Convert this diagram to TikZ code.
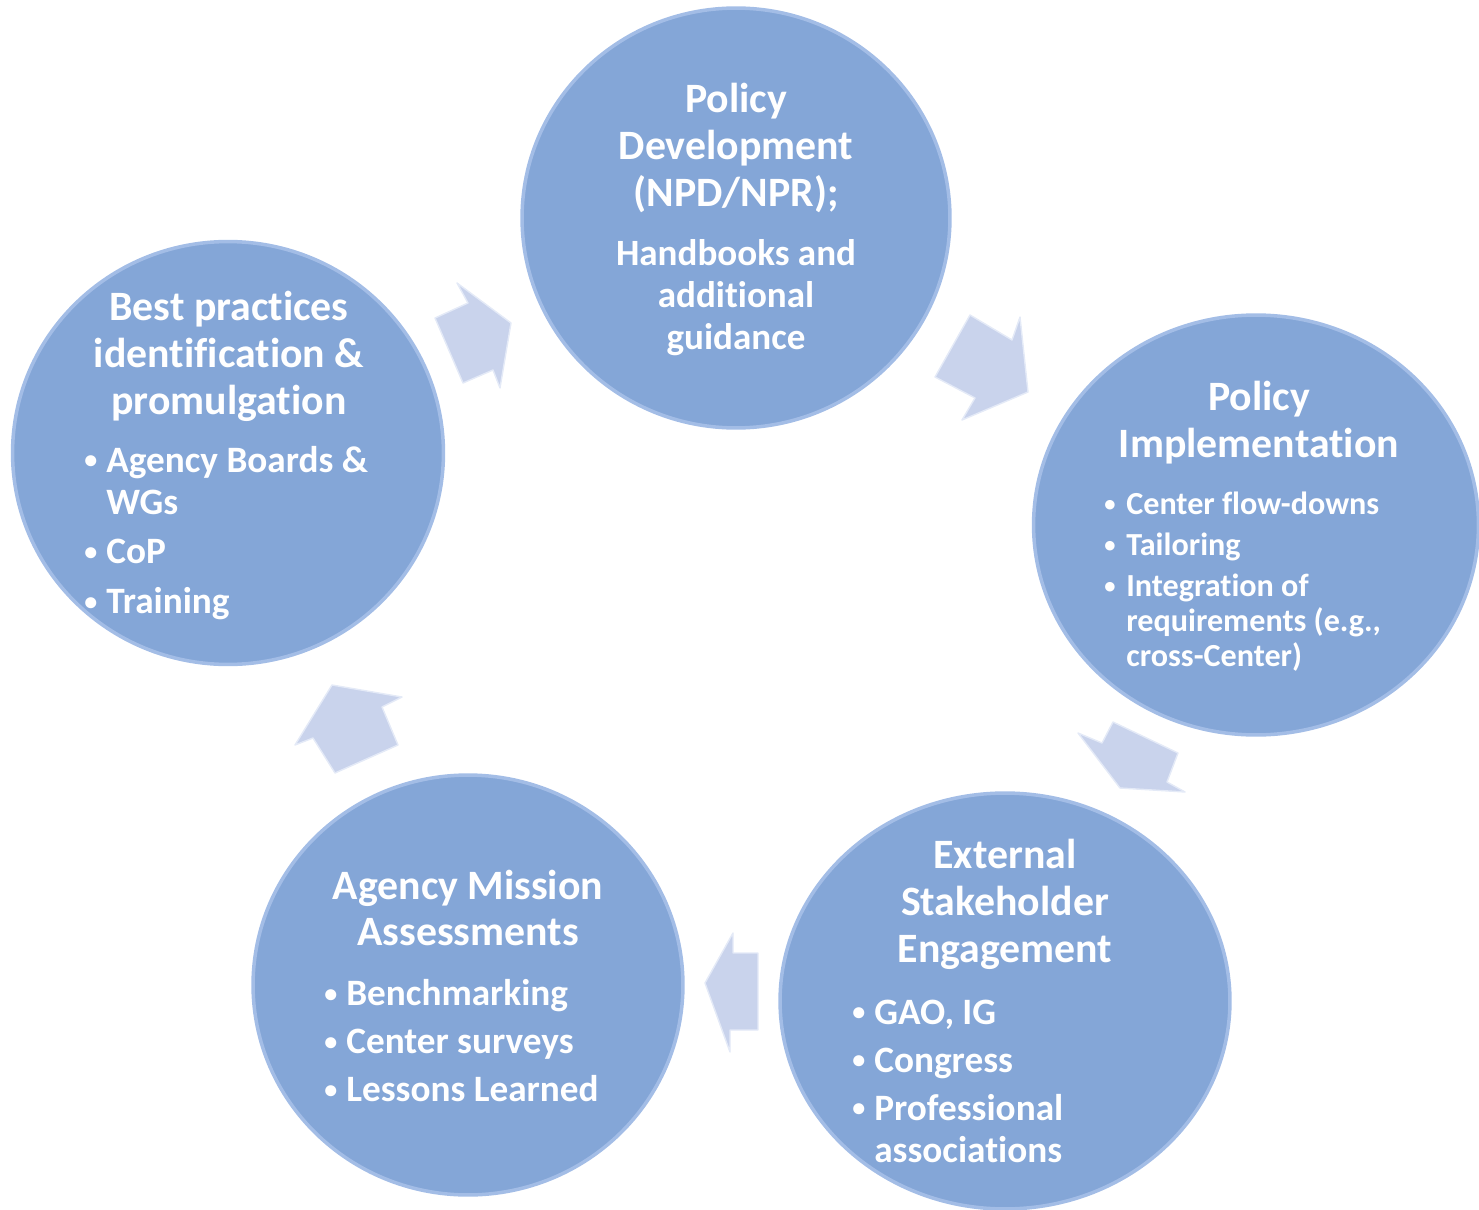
\documentclass[tikz,border=0pt]{standalone}
\usepackage{fontspec}
\setmainfont{Carlito}[Ligatures=NoCommon]
\usetikzlibrary{shapes.geometric}

\definecolor{bubblefill}{HTML}{84A6D7}
\definecolor{bubbleedge}{HTML}{A3BDE6}
\definecolor{arrowfill}{HTML}{C9D3EC}
\definecolor{arrowedge}{HTML}{E4EAF7}

\tikzset{
  bubble/.style={ellipse, fill=bubblefill, draw=bubbleedge, line width=2pt, inner sep=0pt},
  headtxt/.style={text=white, align=center, inner sep=0pt,
    font=\bfseries\fontsize{23.8pt}{26.7pt}\selectfont},
  subtxt/.style={text=white, align=center, inner sep=0pt,
    font=\bfseries\fontsize{21.1pt}{23.9pt}\selectfont},
  listtxt/.style={text=white, align=left, anchor=west, inner sep=0pt,
    font=\bfseries\fontsize{21.2pt}{23.9pt}\selectfont},
  smalllist/.style={listtxt, font=\bfseries\fontsize{18.3pt}{19.9pt}\selectfont},
  blockarrow/.style={fill=arrowfill, draw=arrowedge, line width=0.8pt, line join=round}
}
\newcommand{\bul}{\makebox[12.5pt][l]{\raisebox{0.1em}{\scalebox{0.7}{\textbullet}}}}
\newcommand{\ind}{\hspace*{12.5pt}}

\begin{document}
\begin{tikzpicture}[x=0.02cm, y=-0.02cm]
    \useasboundingbox (0,0) rectangle (1479,1209);

    % -----------------------------------------------------
    % 1) Los cinco circulos del ciclo
    % -----------------------------------------------------
    \node[bubble, minimum width=8.56cm, minimum height=8.40cm] (dev) at (736,218) {};
    \node[bubble, minimum width=8.90cm, minimum height=8.40cm] (impl) at (1256,525) {};
    \node[bubble, minimum width=9.00cm, minimum height=8.32cm] (ext) at (1005,1001) {};
    \node[bubble, minimum width=8.60cm, minimum height=8.40cm] (assess) at (468,985) {};
    \node[bubble, minimum width=8.62cm, minimum height=8.46cm] (best) at (228,453) {};

    % -----------------------------------------------------
    % 2) Flechas de bloque entre circulos
    % -----------------------------------------------------
    % best -> dev
    \draw[blockarrow] (435,318) -- (468,303) -- (457,283) -- (511,323)
        -- (500,388) -- (493,370) -- (463,383) -- cycle;
    % dev -> impl
    \draw[blockarrow] (970,315) -- (1012,340) -- (1020,317) -- (1028,392)
        -- (962,420) -- (975,398) -- (935,377) -- cycle;
    % impl -> ext
    \draw[blockarrow] (1178,753) -- (1167,782) -- (1185,792) -- (1120,788)
        -- (1078,733) -- (1102,743) -- (1113,722) -- cycle;
    % ext -> assess
    \draw[blockarrow] (705,983) -- (733,933) -- (733,953) -- (758,953)
        -- (758,1030) -- (730,1030) -- (730,1052) -- cycle;
    % assess -> best
    \draw[blockarrow] (332,685) -- (402,697) -- (382,707) -- (398,745)
        -- (335,773) -- (313,738) -- (295,745) -- cycle;

    % -----------------------------------------------------
    % 3) Textos
    % -----------------------------------------------------
    \node[headtxt] (devhead) at (736,148) {Policy\\Development\\(NPD/NPR);};
    \node[subtxt] (devsub) at (736,298) {Handbooks and\\additional\\guidance};

    \node[headtxt] (implhead) at (1259,423) {Policy\\Implementation};
    \node[smalllist] (impllist) at (1104,582)
        {\bul Center flow-downs\\[3.4pt]
         \bul Tailoring\\[3.4pt]
         \bul Integration of\\
         \ind requirements (e.g.,\\
         \ind cross-Center)};

    \node[headtxt] (exthead) at (1005,904) {External\\Stakeholder\\Engagement};
    \node[listtxt] (extlist) at (852,1081)
        {\bul GAO, IG\\[3.4pt]
         \bul Congress\\[3.4pt]
         \bul Professional\\
         \ind associations};

    \node[headtxt] (assesshead) at (468,908) {Agency Mission\\Assessments};
    \node[listtxt] (assesslist) at (324,1041)
        {\bul Benchmarking\\[3.4pt]
         \bul Center surveys\\[3.4pt]
         \bul Lessons Learned};

    \node[headtxt] (besthead) at (229,356) {Best practices\\identification \&\\promulgation};
    \node[listtxt] (bestlist) at (84,533)
        {\bul Agency Boards \&\\
         \ind WGs\\[4.5pt]
         \bul CoP\\[4.5pt]
         \bul Training};

\end{tikzpicture}
\end{document}
